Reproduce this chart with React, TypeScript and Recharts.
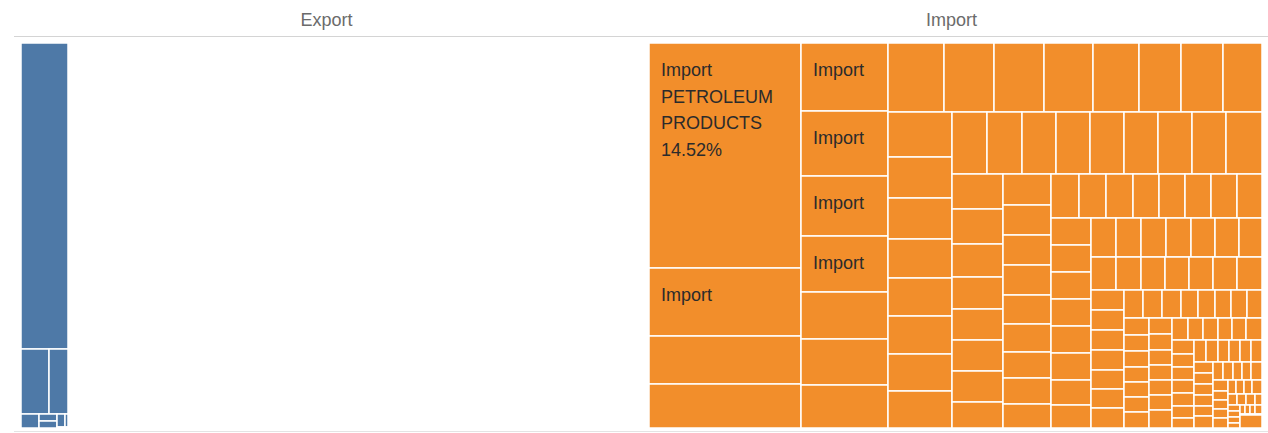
import React from "react";
import { Treemap } from "recharts";

// ---- panel headers ----
const panelTypes = ["Export", "Import"];

// ---- Export panel (values in hundredths of a percent, same scale as import) ----
const exportNames = [
  "Export item 1",
  "Export item 2",
  "Export item 3",
  "Export item 4",
  "Export item 5",
  "Export item 6",
  "Export item 7",
  "Export item 8",
  "Export item 9",
];
const exportValues = [586, 75, 50, 10, 5, 5, 4, 2, 1];

// ---- Import panel (values in hundredths of a percent; total = 10000) ----
const importLeadName = "PETROLEUM PRODUCTS";
const importLargest = [1452, 437, 308, 283, 250, 238, 220, 205, 175, 171, 168];
const importLarge = [163, 146, 146, 143, 134, 122, 122, 114, 123, 112, 110, 107, 104, 104, 101, 101];
const importMid = [
  91, 91, 90, 90, 90, 90, 89, 89, 89, 75, 75, 72, 70, 68, 66, 66, 60, 64, 62, 60, 60, 58, 56, 53, 53, 53,
];
const importSmall = [
  53, 51, 51, 49, 49, 48, 48, 47, 46, 46, 46, 45, 45, 45, 43, 43, 42, 42, 41, 41, 40, 40, 38, 35, 35, 34,
  34, 34, 34, 32,
];
const importTiny = [
  28, 28, 28, 28, 27, 27, 27, 23, 22, 22, 20, 20, 19, 19, 18, 18, 17, 17, 16, 16, 16, 16, 16, 16, 15, 15,
  15, 15, 15,
];
const importTail = [
  15, 14, 14, 13, 13, 13, 13, 12, 12, 12, 12, 11, 11, 11, 11, 10, 10, 10, 10, 9, 9, 9, 9, 8, 8, 8, 8, 7, 7,
  7, 7, 6, 6, 6, 6, 5, 5, 5, 5, 4, 4, 4, 4, 3, 3, 3, 3, 2, 2, 2, 2, 1, 1,
];

const EXPORT_COLOR = "#4E79A7";
const IMPORT_COLOR = "#F28E2B";
const FONT = "Arial, 'Liberation Sans', sans-serif";

const importValues = [
  ...importLargest,
  ...importLarge,
  ...importMid,
  ...importSmall,
  ...importTiny,
  ...importTail,
];

const importData = importValues.map((v, i) => ({
  name: i === 0 ? importLeadName : "Import commodity",
  value: v,
}));
const exportData = exportValues.map((v, i) => ({ name: exportNames[i], value: v }));

const importTotal = importValues.reduce((a, b) => a + b, 0);
const exportTotal = exportValues.reduce((a, b) => a + b, 0);

const LABEL_SIZE = 18;
const LINE_H = 26.5;

function wrapWords(text: string, maxWidth: number): string[] {
  const words = text.split(" ");
  const lines: string[] = [];
  let cur = "";
  for (const w of words) {
    const cand = cur ? cur + " " + w : w;
    if (cand.length * LABEL_SIZE * 0.64 > maxWidth && cur) {
      lines.push(cur);
      cur = w;
    } else {
      cur = cand;
    }
  }
  if (cur) lines.push(cur);
  return lines;
}

function makeCell(type: string, color: string, total: number) {
  return (props: any) => {
    const { x, y, width, height, depth, name, value, index } = props;
    if (depth !== 1) return <g />;
    let lines: string[] = [];
    if (width >= 120 && height >= 130) {
      const pct = ((value / total) * 100).toFixed(2) + "%";
      lines = [type, ...wrapWords(name, width - 24), pct];
    } else if (width >= 70 && height >= 50) {
      lines = [type];
    }
    return (
      <g key={`c-${index}`}>
        <rect x={x} y={y} width={width} height={height} fill={color} stroke="#ffffff" strokeWidth={1.5} />
        {lines.map((t, i) => (
          <text
            key={i}
            x={x + 12}
            y={y + 33 + i * LINE_H}
            fontSize={LABEL_SIZE}
            fontFamily={FONT}
            fill="#2b2b2b"
          >
            {t}
          </text>
        ))}
      </g>
    );
  };
}

export default function App() {
  return (
    <div
      style={{
        position: "absolute",
        left: 0,
        top: 0,
        width: 1268,
        height: 433,
        background: "#ffffff",
        overflow: "hidden",
        fontFamily: FONT,
      }}
    >
      <svg width={1268} height={433} style={{ position: "absolute", left: 0, top: 0 }}>
        <text x={326.5} y={26} textAnchor="middle" fontSize={18} fontFamily={FONT} fill="#6b6b6b">
          {panelTypes[0]}
        </text>
        <text x={951.5} y={26} textAnchor="middle" fontSize={18} fontFamily={FONT} fill="#6b6b6b">
          {panelTypes[1]}
        </text>
        <line x1={14} x2={1268} y1={36.5} y2={36.5} stroke="#d4d4d4" strokeWidth={1} />
        <line x1={14} x2={1268} y1={431.5} y2={431.5} stroke="#e4e4e4" strokeWidth={1} />
      </svg>
      <div style={{ position: "absolute", left: 21, top: 43 }}>
        <Treemap
          width={47}
          height={385}
          data={exportData}
          dataKey="value"
          nameKey="name"
          aspectRatio={2}
          isAnimationActive={false}
          content={makeCell(panelTypes[0], EXPORT_COLOR, exportTotal)}
        />
      </div>
      <div style={{ position: "absolute", left: 649, top: 43 }}>
        <Treemap
          width={613}
          height={385}
          data={importData}
          dataKey="value"
          nameKey="name"
          isAnimationActive={false}
          content={makeCell(panelTypes[1], IMPORT_COLOR, importTotal)}
        />
      </div>
    </div>
  );
}
